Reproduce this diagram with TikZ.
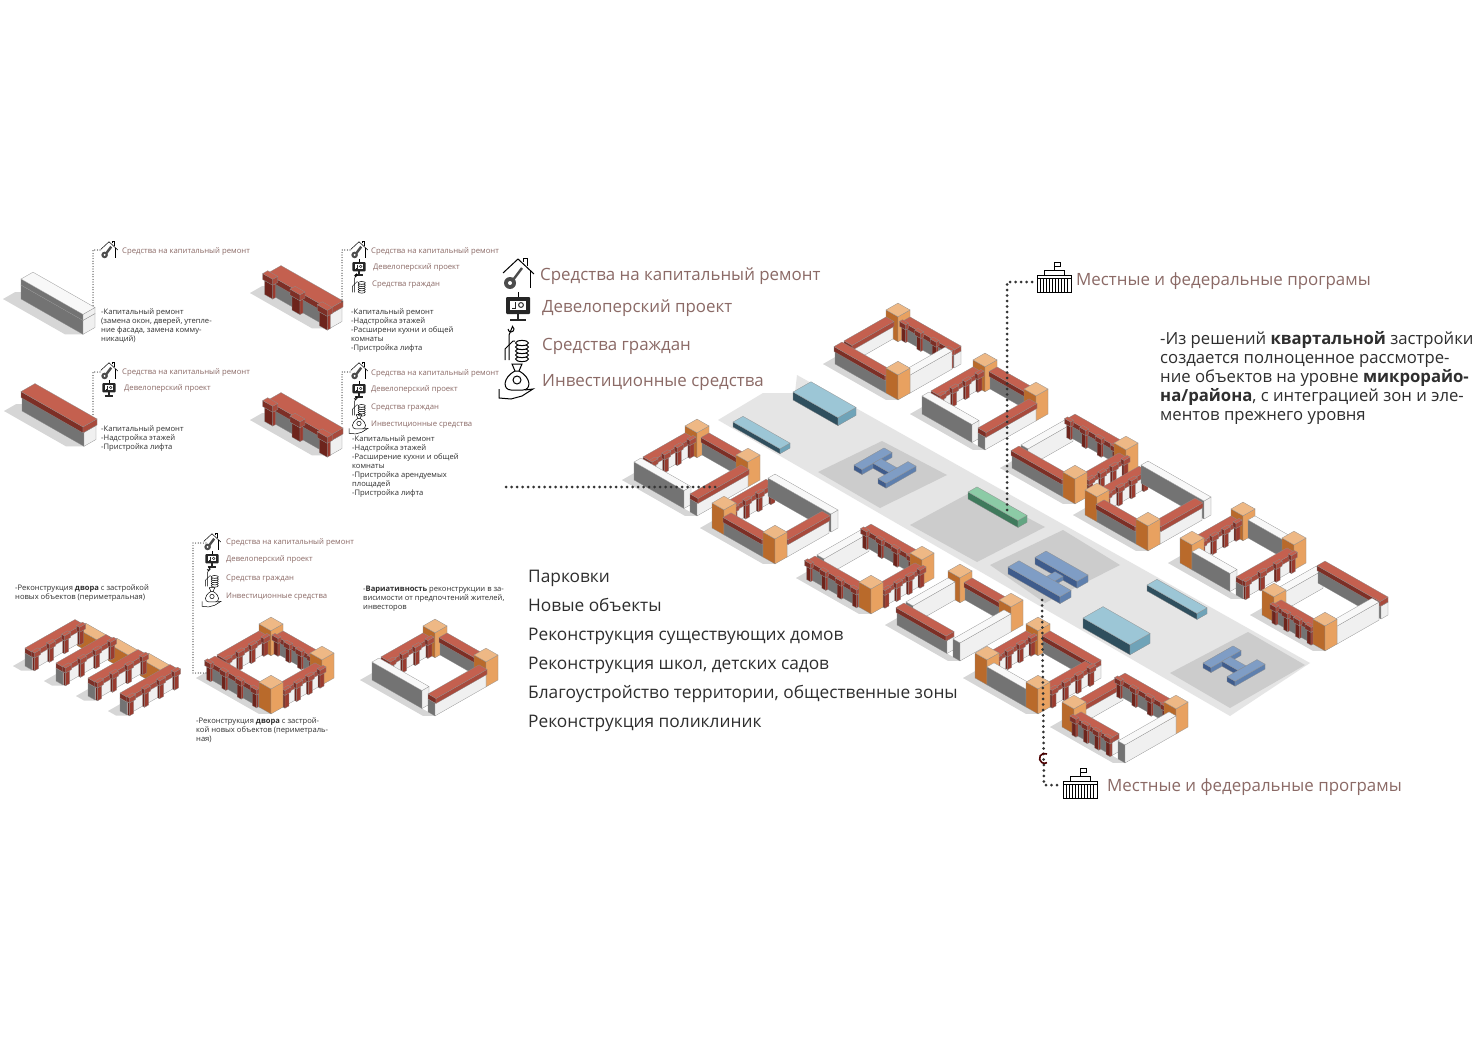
\documentclass[tikz,border=0pt]{standalone}
\usepackage{fontspec}
\setmainfont{Open Sans}
\usepackage{tikz}

\definecolor{labelbrown}{HTML}{8B6A66}
\definecolor{plantext}{HTML}{2E2E2E}
\definecolor{wtop}{HTML}{F8F8F8}
\definecolor{wdark}{HTML}{737373}
\definecolor{wlight}{HTML}{F0F0F0}
\definecolor{captop}{HTML}{C4604F}
\definecolor{capleft}{HTML}{7D2F26}
\definecolor{capright}{HTML}{A84A3C}
\definecolor{ribleft}{HTML}{6D241C}
\definecolor{ribright}{HTML}{9A3B2F}
\definecolor{ortop}{HTML}{EEB885}
\definecolor{orleft}{HTML}{B96A2B}
\definecolor{orright}{HTML}{E8A160}
\definecolor{parktop}{HTML}{9CC6D6}
\definecolor{parkleft}{HTML}{2F4F5E}
\definecolor{parkright}{HTML}{6FA3B8}
\definecolor{schooltop}{HTML}{7F9DC5}
\definecolor{schoolleft}{HTML}{3F5C8C}
\definecolor{schoolright}{HTML}{5F80AE}
\definecolor{cliniktop}{HTML}{8CCBA6}
\definecolor{clinikleft}{HTML}{3F7A5C}
\definecolor{clinikright}{HTML}{63A582}

\tikzset{
  iso/.style={shift={(#1)},x={(1pt,-.57pt)},y={(1pt,.57pt)},z={(0pt,1pt)}},
  boxface/.style={draw=black!45,line width=.25pt},
  smallbrown/.style={anchor=base west,yshift=-2.5pt,inner sep=0pt,text=labelbrown,font=\fontsize{7.7}{9}\selectfont},
  smalltext/.style={anchor=north west,align=left,inner sep=0pt,text=plantext,font=\fontsize{7.6}{9}\selectfont},
  bigbrown/.style={anchor=base west,yshift=-6pt,inner sep=0pt,text=labelbrown,font=\fontsize{16.9}{20}\selectfont},
  legendtext/.style={anchor=base west,yshift=-6pt,inner sep=0pt,text=plantext,font=\fontsize{17.3}{20}\selectfont},
  paratext/.style={anchor=north west,align=left,inner sep=0pt,text=plantext,font=\fontsize{16.7}{19}\selectfont},
  bigdots/.style={line width=3pt,line cap=round,dash pattern=on 0pt off 5.5pt,draw=black!80},
  smalldots/.style={line width=1.2pt,line cap=round,dash pattern=on 0pt off 2.6pt,draw=black!80},
  houseicon/.pic={
    \draw (-15,-1) -- (0,-15) -- (16,0);
    \draw (12,-4) -- (12,14);
    \draw (5,-12) -- (5,-16) -- (9,-16) -- (9,-8);
    \draw [line width=2.4pt,black!70] (4,-6) -- (-5,6);
    \fill [black!70] (-8,9) circle (6);
    \fill [white] (-8,9) circle (2);
  },
  boardicon/.pic={
    \draw (0,-14) -- (0,-9);
    \fill [black!85,rounded corners=1pt] (-12,-9) rectangle (12,8);
    \fill [white] (-8,-5) rectangle (8,4);
    \draw [black!85] (-3,-4) -- (-3,2) -- (-6,2);
    \draw [black!85] (3,-1) circle (2.4);
    \draw [line width=1.8pt,black!85] (0,8) -- (0,13);
    \draw [line width=1.8pt,black!85] (-8,14) -- (8,14);
  },
  coinsicon/.pic={
    \draw (-9,-16) arc (180:-60:3) -- (-8,-10) -- (-8,15);
    \draw (-12,15) -- (-12,4) -- (-4,-4) -- (-2,-4);
    \foreach \cy in {14,10,6,2,-2} {
      \filldraw [fill=white] (5,\cy) ellipse (6.5 and 2.6);
    }
  },
  bagicon/.pic={
    \draw (-5,-17) -- (5,-17) -- (2,-10) -- (-2,-10) -- cycle;
    \draw (-2,-10) .. controls (-15,-3) and (-14,9) .. (-6,9) -- (6,9) .. controls (14,9) and (15,-3) .. (2,-10);
    \draw (0,-1) circle (4);
    \draw (-18,8) -- (-18,17) -- (-6,18) -- (5,15) -- (16,8) -- (8,9);
  },
  govicon/.pic={
    \draw (-17,-2) rectangle (17,15);
    \draw (-17,1) -- (17,1);
    \foreach \gx in {-14,-11,-8,-5,-2,1,4,7,10,13} {
      \draw (\gx,1) -- (\gx,15);
    }
    \draw (-10,-2) -- (-10,-7) -- (10,-7) -- (10,-2);
    \draw (0,-7) -- (0,-15) -- (6,-15) -- (6,-11) -- (0,-11);
  },
}

\newcommand{\isobox}[9]{%
  \pgfmathsetmacro{\boxu}{#1}%
  \pgfmathsetmacro{\boxv}{#2}%
  \pgfmathsetmacro{\boxz}{#3}%
  \pgfmathsetmacro{\boxuu}{#1+#4}%
  \pgfmathsetmacro{\boxvv}{#2+#5}%
  \pgfmathsetmacro{\boxzz}{#3+#6}%
  \filldraw [boxface,fill=#8] (\boxu,\boxv,\boxz) -- (\boxuu,\boxv,\boxz) -- (\boxuu,\boxv,\boxzz) -- (\boxu,\boxv,\boxzz) -- cycle;
  \filldraw [boxface,fill=#9] (\boxuu,\boxv,\boxz) -- (\boxuu,\boxvv,\boxz) -- (\boxuu,\boxvv,\boxzz) -- (\boxuu,\boxv,\boxzz) -- cycle;
  \filldraw [boxface,fill=#7] (\boxu,\boxv,\boxzz) -- (\boxuu,\boxv,\boxzz) -- (\boxuu,\boxvv,\boxzz) -- (\boxu,\boxvv,\boxzz) -- cycle;
}
\newcommand{\wallUwhite}[3]{\isobox{#1}{#2}{0}{#3}{7}{18}{wtop}{wdark}{wlight}}
\newcommand{\wallVwhite}[3]{\isobox{#1}{#2}{0}{7}{#3}{18}{wtop}{wdark}{wlight}}
\newcommand{\wallUred}[3]{%
  \isobox{#1}{#2}{0}{#3}{7}{13}{wtop}{wdark}{wlight}
  \isobox{#1}{#2-1}{13}{#3}{8}{5}{captop}{capleft}{capright}
}
\newcommand{\wallVred}[3]{%
  \isobox{#1}{#2}{0}{7}{#3}{13}{wtop}{wdark}{wlight}
  \isobox{#1}{#2}{13}{8}{#3}{5}{captop}{capleft}{capright}
}
\newcommand{\wallUrib}[3]{%
  \isobox{#1}{#2}{0}{#3}{7}{13}{wtop}{wdark}{wlight}
  \foreach \rb in {.05,.35,.65,.95} {
    \isobox{#1+\rb*#3-2}{#2-2}{0}{4}{2}{13}{ribleft}{ribleft}{ribright}
  }
  \isobox{#1}{#2-1}{13}{#3}{8}{5}{captop}{capleft}{capright}
  \foreach \rb in {.05,.35,.65,.95} {
    \isobox{#1+\rb*#3-3}{#2-3}{14}{6}{3}{5}{captop}{capleft}{capright}
  }
}
\newcommand{\wallVrib}[3]{%
  \isobox{#1}{#2}{0}{7}{#3}{13}{wtop}{wdark}{wlight}
  \foreach \rb in {.95,.65,.35,.05} {
    \isobox{#1+7}{#2+\rb*#3-2}{0}{2}{4}{13}{ribleft}{ribleft}{ribright}
  }
  \isobox{#1}{#2}{13}{8}{#3}{5}{captop}{capleft}{capright}
  \foreach \rb in {.95,.65,.35,.05} {
    \isobox{#1+7}{#2+\rb*#3-3}{14}{3}{6}{5}{captop}{capleft}{capright}
  }
}
\newcommand{\corblock}[3]{%
  \ifnum#1=1
    \isobox{#2}{#3}{0}{12}{12}{25}{ortop}{orleft}{orright}
  \fi
}
\newcommand{\groundshade}[3]{%
  \fill [black!16] (0,0,0) -- (#1,0,0) -- ({#1-#3},-#3,0) -- (-#3,-#3,0) -- cycle;
  \fill [black!16] (0,0,0) -- (0,#2,0) -- (-#3,{#2-#3},0) -- (-#3,-#3,0) -- cycle;
}
\newcommand{\quarterblock}[9]{%
  \ifnum#7=1 \def\swa{12}\def\nwa{12}\else \def\swa{0}\def\nwa{9}\fi
  \ifnum#9=1 \def\swb{51}\def\sea{12}\else \def\swb{50}\def\sea{0}\fi
  \ifnum#8=1 \def\neb{51}\def\seb{51}\else \def\neb{63}\def\seb{54}\fi
  \ifnum#6=1 \def\nea{12}\def\nwb{51}\else \def\nea{0}\def\nwb{54}\fi
  \pgfmathsetmacro{\nwl}{\nwb-\nwa}
  \pgfmathsetmacro{\nel}{\neb-\nea}
  \pgfmathsetmacro{\swl}{\swb-\swa}
  \pgfmathsetmacro{\sel}{\seb-\sea}
  \begin{scope}[iso={#1}]
    \groundshade{63}{63}{6}
    \corblock{#6}{0}{51}
    \csname wallV#2\endcsname{0}{\nwa}{\nwl}
    \csname wallU#3\endcsname{\nea}{56}{\nel}
    \corblock{#7}{0}{0}
    \corblock{#8}{51}{51}
    \csname wallU#4\endcsname{\swa}{0}{\swl}
    \csname wallV#5\endcsname{56}{\sea}{\sel}
    \corblock{#9}{51}{0}
  \end{scope}
}
\newcommand{\singlecapwhite}{\isobox{0}{0}{14}{62}{12}{6}{wtop}{wdark}{wlight}}
\newcommand{\singlecapred}{\isobox{0}{-1}{14}{62}{14}{6}{captop}{capleft}{capright}}
\newcommand{\singlecaprib}{%
  \foreach \rb in {.06,.5,.94} {
    \isobox{\rb*62-4}{-3}{0}{8}{3}{14}{ribleft}{ribleft}{ribright}
  }
  \isobox{0}{-1}{14}{62}{14}{6}{captop}{capleft}{capright}
  \foreach \rb in {.06,.5,.94} {
    \isobox{\rb*62-5}{-4}{15}{10}{5}{6}{captop}{capleft}{capright}
  }
}
\newcommand{\singlewall}[2]{%
  \begin{scope}[iso={#1}]
    \groundshade{62}{12}{9}
    \isobox{0}{0}{0}{62}{12}{14}{wtop}{wdark}{wlight}
    \csname singlecap#2\endcsname
  \end{scope}
}
\newcommand{\rowblock}[1]{%
  \begin{scope}[iso={#1}]
    \groundshade{8}{50}{6}
    \wallVrib{0}{0}{50}
  \end{scope}
}
\newcommand{\rowlink}[1]{%
  \begin{scope}[iso={#1}]
    \isobox{8}{44}{0}{26}{9}{17}{ortop}{orleft}{orright}
  \end{scope}
}
\newcommand{\schoolh}[1]{%
  \begin{scope}[iso={#1}]
    \isobox{0}{0}{0}{8}{30}{5}{schooltop}{schoolleft}{schoolright}
    \isobox{8}{11}{0}{16}{8}{5}{schooltop}{schoolleft}{schoolright}
    \isobox{24}{0}{0}{8}{30}{5}{schooltop}{schoolleft}{schoolright}
  \end{scope}
}

\begin{document}
\begin{tikzpicture}[x=1pt,y=-1pt]
    \useasboundingbox (0,0) rectangle (1475,1043);
    \fill [white] (0,0) rectangle (1475,1043);
    \fill [black!10] (718,420) -- (763,393) -- (795,393) -- (797,375) -- (1310,663) -- (1230,716) -- cycle;
    \fill [black!20] (818,472) -- (882,441) -- (947,475) -- (880,508) -- cycle;
    \fill [black!20] (910,525) -- (975,490) -- (1045,527) -- (977,562) -- cycle;
    \fill [black!20] (990,565) -- (1063,530) -- (1120,565) -- (1045,603) -- cycle;
    \fill [black!20] (1170,673) -- (1248,632) -- (1305,665) -- (1230,708) -- cycle;
    \begin{scope}[iso={793,400}]
      \isobox{0}{0}{0}{45}{18}{8}{parktop}{parkleft}{parkright}
    \end{scope}
    \begin{scope}[iso={733,427}]
      \isobox{0}{0}{0}{47}{10}{5}{parktop}{parkleft}{parkright}
    \end{scope}
    \begin{scope}[iso={1147,591}]
      \isobox{0}{0}{0}{50}{10}{6}{parktop}{parkleft}{parkright}
    \end{scope}
    \begin{scope}[iso={1083,628}]
      \isobox{0}{0}{0}{47}{20}{10}{parktop}{parkleft}{parkright}
    \end{scope}
    \begin{scope}[iso={968,499}]
      \isobox{0}{0}{0}{50}{9}{7}{cliniktop}{clinikleft}{clinikright}
    \end{scope}
    \schoolh{854,470}
    \schoolh{1203,668}
    \begin{scope}[iso={1008,574}]
      \isobox{5}{22}{0}{42}{11}{7}{schooltop}{schoolleft}{schoolright}
      \isobox{25}{10}{0}{8}{12}{4}{schooltop}{schoolleft}{schoolright}
      \isobox{0}{0}{0}{52}{11}{7}{schooltop}{schoolleft}{schoolright}
    \end{scope}
    \quarterblock{835,364}{red}{rib}{red}{white}{1}{0}{0}{1}
    \quarterblock{922,414}{rib}{red}{white}{red}{1}{0}{1}{0}
    \quarterblock{634,480}{rib}{red}{white}{red}{1}{0}{1}{0}
    \quarterblock{712,528}{rib}{white}{red}{red}{0}{1}{0}{1}
    \quarterblock{1012,468}{white}{rib}{red}{rib}{0}{0}{1}{1}
    \quarterblock{1085,515}{rib}{white}{red}{red}{0}{1}{0}{1}
    \quarterblock{1180,563}{rib}{white}{white}{rib}{1}{1}{1}{0}
    \quarterblock{1262,615}{white}{red}{rib}{white}{0}{1}{0}{1}
    \quarterblock{808,578}{white}{rib}{rib}{rib}{0}{0}{1}{1}
    \quarterblock{897,625}{white}{red}{red}{white}{1}{0}{1}{0}
    \quarterblock{975,678}{rib}{red}{white}{rib}{1}{1}{0}{1}
    \quarterblock{1062,727}{red}{rib}{rib}{white}{0}{1}{1}{0}
    \singlewall{21,299}{white}
    \singlewall{22,411}{red}
    \singlewall{268,293}{rib}
    \singlewall{268,420}{rib}
    \rowlink{25,666}
    \rowblock{25,666}
    \rowlink{56,681}
    \rowblock{56,681}
    \rowlink{88,696}
    \rowblock{88,696}
    \rowblock{120,711}
    \quarterblock{208,678}{rib}{rib}{rib}{rib}{1}{0}{1}{1}
    \quarterblock{372,680}{rib}{red}{white}{red}{1}{0}{1}{0}
    \coordinate (bigA) at (518,274);
    \coordinate (bigB) at (518,306);
    \coordinate (bigC) at (517,345);
    \coordinate (bigD) at (517,381);
    \pic [line width=1pt] at (bigA) {houseicon};
    \pic [line width=1pt] at (bigB) {boardicon};
    \pic [line width=1pt] at (bigC) {coinsicon};
    \pic [line width=1pt] at (bigD) {bagicon};
    \node [bigbrown] (bigcap) at (540,274) {Средства на капитальный ремонт};
    \node [bigbrown] (bigdev) at (542,306) {Девелоперский проект};
    \node [bigbrown] (bigcit) at (542,344) {Средства граждан};
    \node [bigbrown] (biginv) at (542,380) {Инвестиционные средства};
    \coordinate (wallAh) at (109,250);
    \pic [scale=.55,line width=.5pt] at (wallAh) {houseicon};
    \node [smallbrown] (wallAcap) at (122,251) {Средства на капитальный ремонт};
    \node [smalltext] (wallAtext) at (101,309) {-Капитальный ремонт\\(замена окон, дверей, утепле-\\ние фасада, замена комму-\\никаций)};
    \coordinate (wallBh) at (109,371);
    \coordinate (wallBd) at (109,388);
    \pic [scale=.55,line width=.5pt] at (wallBh) {houseicon};
    \pic [scale=.55,line width=.5pt] at (wallBd) {boardicon};
    \node [smallbrown] (wallBcap) at (122,372) {Средства на капитальный ремонт};
    \node [smallbrown] (wallBdev) at (124,388) {Девелоперский проект};
    \node [smalltext] (wallBtext) at (101,426) {-Капитальный ремонт\\-Надстройка этажей\\-Пристройка лифта};
    \coordinate (wallCh) at (359,250);
    \coordinate (wallCd) at (359,267);
    \coordinate (wallCc) at (359,284);
    \pic [scale=.55,line width=.5pt] at (wallCh) {houseicon};
    \pic [scale=.55,line width=.5pt] at (wallCd) {boardicon};
    \pic [scale=.55,line width=.5pt] at (wallCc) {coinsicon};
    \node [smallbrown] (wallCcap) at (371,251) {Средства на капитальный ремонт};
    \node [smallbrown] (wallCdev) at (373,267) {Девелоперский проект};
    \node [smallbrown] (wallCcit) at (372,284) {Средства граждан};
    \node [smalltext] (wallCtext) at (351,309) {-Капитальный ремонт\\-Надстройка этажей\\-Расширени кухни и общей\\комнаты\\-Пристройка лифта};
    \coordinate (wallDh) at (359,371);
    \coordinate (wallDd) at (359,389);
    \coordinate (wallDc) at (359,407);
    \coordinate (wallDb) at (359,424);
    \pic [scale=.55,line width=.5pt] at (wallDh) {houseicon};
    \pic [scale=.55,line width=.5pt] at (wallDd) {boardicon};
    \pic [scale=.55,line width=.5pt] at (wallDc) {coinsicon};
    \pic [scale=.55,line width=.5pt] at (wallDb) {bagicon};
    \node [smallbrown] (wallDcap) at (371,373) {Средства на капитальный ремонт};
    \node [smallbrown] (wallDdev) at (371,389) {Девелоперский проект};
    \node [smallbrown] (wallDcit) at (371,407) {Средства граждан};
    \node [smallbrown] (wallDinv) at (371,424) {Инвестиционные средства};
    \node [smalltext] (wallDtext) at (352,436) {-Капитальный ремонт\\-Надстройка этажей\\-Расширение кухни и общей\\комнаты\\-Пристройка арендуемых\\площадей\\-Пристройка лифта};
    \coordinate (yardh) at (212,542);
    \coordinate (yardd) at (212,559);
    \coordinate (yardc) at (212,578);
    \coordinate (yardb) at (212,597);
    \pic [scale=.55,line width=.5pt] at (yardh) {houseicon};
    \pic [scale=.55,line width=.5pt] at (yardd) {boardicon};
    \pic [scale=.55,line width=.5pt] at (yardc) {coinsicon};
    \pic [scale=.55,line width=.5pt] at (yardb) {bagicon};
    \node [smallbrown] (yardcap) at (226,542) {Средства на капитальный ремонт};
    \node [smallbrown] (yarddev) at (226,559) {Девелоперский проект};
    \node [smallbrown] (yardcit) at (226,578) {Средства граждан};
    \node [smallbrown] (yardinv) at (226,596) {Инвестиционные средства};
    \node [smalltext] (rowtext) at (15,585) {-Реконструкция \textbf{двора} с застройкой\\новых объектов (периметральная)};
    \node [smalltext] (yardtext) at (196,718) {-Реконструкция \textbf{двора} с застрой-\\кой новых объектов (периметраль-\\ная)};
    \node [smalltext] (vartext) at (363,586) {-\textbf{Вариативность} реконструкции в за-\\висимости от предпочтений жителей,\\инвесторов};
    \node [legendtext] (legA) at (528,576) {Парковки};
    \node [legendtext] (legB) at (528,605) {Новые объекты};
    \node [legendtext] (legC) at (528,634) {Реконструкция существующих домов};
    \node [legendtext] (legD) at (528,663) {Реконструкция школ, детских садов};
    \node [legendtext] (legE) at (528,692) {Благоустройство территории, общественные зоны};
    \node [legendtext] (legF) at (528,721) {Реконструкция поликлиник};
    \node [paratext] (planpara) at (1160,331) {-Из решений \textbf{квартальной} застройки\\создается полноценное рассмотре-\\ние объектов на уровне \textbf{микрорайо-}\\\textbf{на/района}, с интеграцией зон и эле-\\ментов прежнего уровня};
    \coordinate (govtop) at (1054,277);
    \coordinate (govbot) at (1080,783);
    \pic [line width=.7pt] at (govtop) {govicon};
    \pic [line width=.7pt] at (govbot) {govicon};
    \node [bigbrown] (govtopcap) at (1076,279) {Местные и федеральные програмы};
    \node [bigbrown] (govbotcap) at (1107,785) {Местные и федеральные програмы};
    \coordinate (dotAa) at (100,250);
    \coordinate (dotAb) at (93,250);
    \coordinate (dotAc) at (93,306);
    \coordinate (dotBa) at (100,372);
    \coordinate (dotBb) at (93,372);
    \coordinate (dotBc) at (93,415);
    \coordinate (dotCa) at (350,250);
    \coordinate (dotCb) at (342,250);
    \coordinate (dotCc) at (342,302);
    \coordinate (dotDa) at (350,372);
    \coordinate (dotDb) at (342,372);
    \coordinate (dotDc) at (342,425);
    \coordinate (dotEa) at (206,543);
    \coordinate (dotEb) at (193,543);
    \coordinate (dotEc) at (193,673);
    \coordinate (dotEd) at (208,673);
    \coordinate (dotFa) at (506,487);
    \coordinate (dotFb) at (720,487);
    \coordinate (dotGa) at (1032,282);
    \coordinate (dotGb) at (1007,282);
    \coordinate (dotGc) at (1007,512);
    \coordinate (dotHa) at (1042,600);
    \coordinate (dotHb) at (1044,785);
    \coordinate (dotHc) at (1060,785);
    \draw [smalldots] (dotAa) to (dotAb) to (dotAc);
    \draw [smalldots] (dotBa) to (dotBb) to (dotBc);
    \draw [smalldots] (dotCa) to (dotCb) to (dotCc);
    \draw [smalldots] (dotDa) to (dotDb) to (dotDc);
    \draw [smalldots] (dotEa) to (dotEb) to (dotEc) to (dotEd);
    \draw [bigdots] (dotFa) to (dotFb);
    \draw [bigdots] (dotGa) to (dotGb) to (dotGc);
    \draw [bigdots] (dotHa) to (dotHb) to (dotHc);
    \draw [line width=1.6pt,black!50!red!60!black] (1047,754) arc (-60:-300:5);
\end{tikzpicture}
\end{document}
